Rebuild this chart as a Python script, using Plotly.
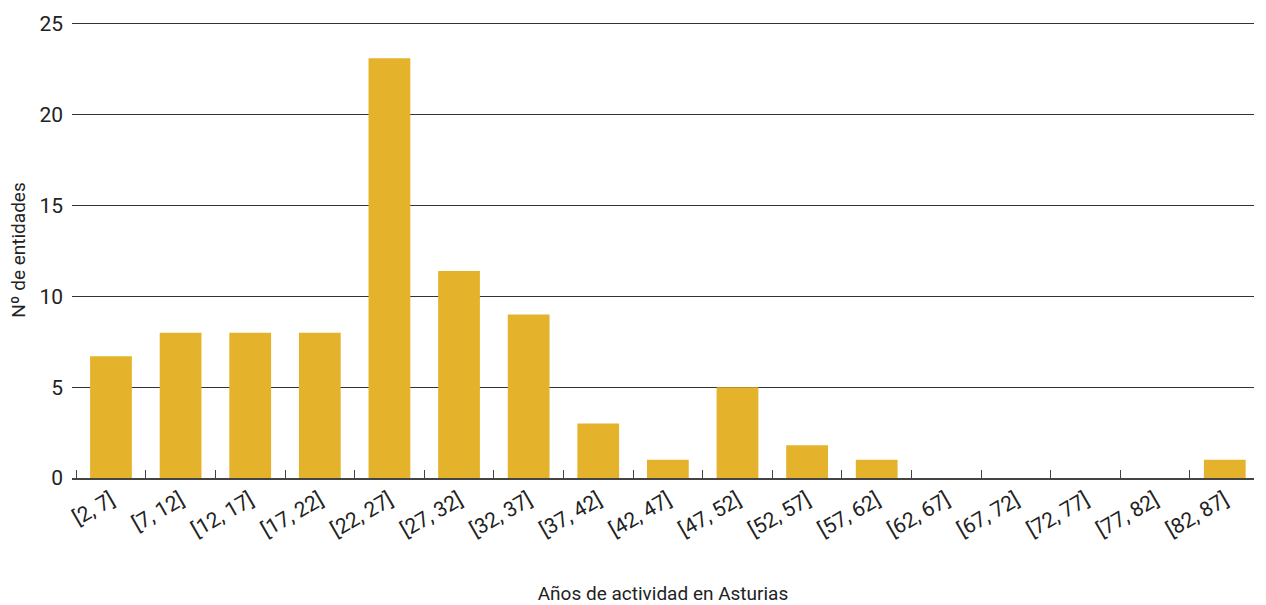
import plotly.graph_objects as go

rangos = ['[2, 7]', '[7, 12]', '[12, 17]', '[17, 22]', '[22, 27]', '[27, 32]',
          '[32, 37]', '[37, 42]', '[42, 47]', '[47, 52]', '[52, 57]', '[57, 62]',
          '[62, 67]', '[67, 72]', '[72, 77]', '[77, 82]', '[82, 87]']
entidades = [6.7, 8, 8, 8, 23.1, 11.4, 9, 3, 1, 5, 1.8, 1, 0, 0, 0, 0, 1]

font_name = 'Liberation Sans Narrow, Roboto, sans-serif'

fig = go.Figure(go.Bar(x=rangos, y=entidades, marker_color='#E5B22B',
                       marker_line_width=0, cliponaxis=False))

fig.update_layout(
    width=1266, height=605,
    margin=dict(l=72, r=12, t=22, b=127),
    plot_bgcolor='white', paper_bgcolor='white',
    bargap=0.4,
    showlegend=False,
    font=dict(family=font_name, size=21, color='#222'),
)
fig.update_xaxes(
    automargin=False,
    range=[-0.56, 16.42],
    tickangle=-30, tickfont=dict(size=21),
    showline=True, linecolor='#444', linewidth=2, layer='above traces',
    ticks='inside', tickson='boundaries', ticklen=8, tickcolor='#444',
    title=dict(text='Años de actividad en Asturias', font=dict(size=19), standoff=50),
    showgrid=False,
)
fig.update_yaxes(
    automargin=False,
    range=[0, 25.1], tickvals=[0, 5, 10, 15, 20, 25],
    showgrid=True, gridcolor='#333', gridwidth=1,
    zeroline=False, tickfont=dict(size=21), ticks='', ticklabelstandoff=8,
    title=dict(text='Nº de entidades', font=dict(size=19), standoff=8),
)

# quitar el margen por defecto del navegador
fig.write_html('out.html', config={'displayModeBar': False},
               post_script="document.body.style.margin='0px';")
